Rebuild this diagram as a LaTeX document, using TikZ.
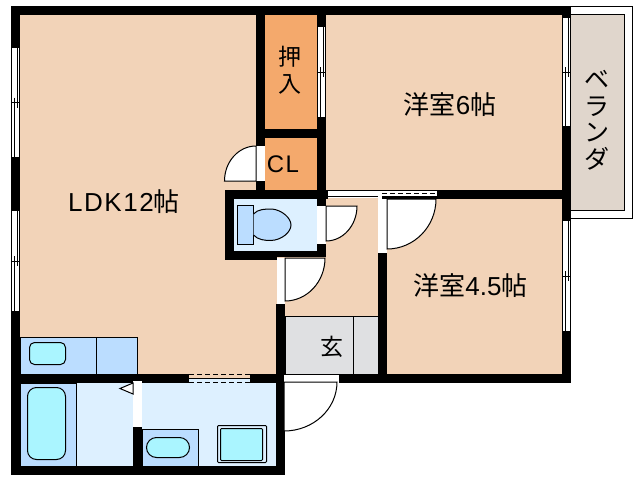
\documentclass[tikz,border=0pt]{standalone}
\usepackage{fontspec}
\setmainfont{Liberation Sans}
\newfontfamily\cjk{Noto Sans CJK JP}
\newfontfamily\latw[LetterSpace=6]{Liberation Sans}
\usepackage{xcolor}
\definecolor{floorc}{HTML}{F2D3B8}
\definecolor{closetc}{HTML}{F4A96C}
\definecolor{wetc}{HTML}{DDF0FF}
\definecolor{fixc}{HTML}{BBDDFF}
\definecolor{waterc}{HTML}{AAF5FF}
\definecolor{porchc}{HTML}{DFE0E2}
\definecolor{balcc}{HTML}{E0D6CC}
\tikzstyle{wall}=[fill=black]
\tikzstyle{thinl}=[draw=black,line width=1pt]
\tikzstyle{leaf}=[thinl,fill=white]
\tikzstyle{fixture}=[thinl,fill=fixc]
\tikzstyle{basin}=[thinl,fill=waterc]
\tikzstyle{roomtext}=[inner sep=0pt,font=\fontsize{26}{26}\selectfont\cjk]
\tikzstyle{tallertext}=[roomtext,align=center]
% sash: x, top, bottom
\newcommand{\sash}[3]{
\fill[white] (#1,#2) rectangle (#1+9,#3);
\draw[thinl] (#1+0.5,#2) -- (#1+0.5,#3);
\draw[thinl] (#1+8.5,#2) -- (#1+8.5,#3);
\draw[thinl] (#1+6,#2) -- (#1+6,{(#2+#3)/2+5});
\draw[thinl] (#1+3,{(#2+#3)/2-5}) -- (#1+3,#3);
\draw[thinl] (#1+0.5,{(#2+#3)/2}) -- (#1+8.5,{(#2+#3)/2});
}
\begin{document}
\begin{tikzpicture}[x=1pt,y=-1pt]
\useasboundingbox (0,0) rectangle (638,480);
% floors
\fill[floorc] (20,15) rectangle (562,374);
\fill[closetc] (265,15) rectangle (317,190);
\fill[wetc] (234,199) rectangle (317,251);
\fill[wetc] (20,383) rectangle (276,466);
\fill[white] (326,383) rectangle (638,480);
\fill[floorc] (189,374) rectangle (250,378);
\fill[wetc] (189,378) rectangle (250,383);
\draw[thinl,fill=porchc] (285,316) rectangle (378,374);
\draw[thinl] (353.5,316) -- (353.5,374);
% balcony
\draw[thinl] (571,6.5) -- (632,6.5) -- (632,218) -- (571,218);
\draw[thinl,fill=balcc] (571,14.5) -- (624,14.5) -- (624,210.5) -- (571,210.5);
% walls
\foreach \xa/\ya/\xb/\yb in {11/6/571/15,11/6/20/48,11/157/20/211,11/311/20/475,
11/466/285/475,11/374/189/383,250/374/285/383,276/304/285/475,
256/15/265/146,256/181/265/190,265/129/317/138,
225/190/328/199,225/190/234/260,225/251/277/260,277/251/326/257,317/190/326/206,317/244/326/257,
317/15/326/27,317/117/326/190,382/196/437/199,437/190/571/199,
378/253/387/374,339/374/571/383,562/6/571/18,562/126/571/221,562/331/571/383,133/427/142/466}
\fill[wall] (\xa,\ya) rectangle (\xb,\yb);
% windows
\sash{11}{48}{157}
\sash{11}{211}{311}
\sash{317}{27}{117}
\sash{562}{18}{126}
\sash{562}{221}{331}
% sliding doors
\fill[white] (328,190) rectangle (437,196);
\fill[white] (328,196) rectangle (382,198);
\fill[white] (378,196) rectangle (382,199);
\draw[thinl] (328,190.5) -- (437,190.5);
\draw[thinl] (328,196.5) -- (378,196.5);
\draw[thinl,dash pattern=on 5pt off 3pt] (382,193) -- (437,193);
\draw[thinl,dash pattern=on 5pt off 3pt] (189,374) -- (250,374);
\draw[thinl] (189,378) -- (250,378);
\draw[thinl,dash pattern=on 5pt off 3pt] (189,382) -- (250,382);
% door openings
\foreach \xa/\ya/\xb/\yb in {256/146/265/181,317/206/326/244,277/258/285/304,378/199/387/253,133/381/142/427,284/375/339/382}
\fill[white] (\xa,\ya) rectangle (\xb,\yb);
% door leaves
\draw[leaf] (256,146) -- (256,181) -- (224.5,181) arc[start angle=180,end angle=270,x radius=31.5,y radius=35];
\draw[leaf] (357,206) arc[start angle=0,end angle=90,x radius=31,y radius=35] -- (326,206) -- cycle;
\draw[leaf] (325,258) arc[start angle=0,end angle=90,x radius=40,y radius=43] -- (285,258) -- cycle;
\draw[leaf] (436,199) arc[start angle=0,end angle=90,x radius=49,y radius=50] -- (387,199) -- cycle;
\draw[leaf] (337,382) arc[start angle=0,end angle=90,x radius=53,y radius=49] -- (284,382) -- cycle;
\draw[leaf] (120,388.5) -- (133,383) -- (133,394) -- cycle;
% toilet
\draw[fixture] (237.5,205.5) rectangle (253.5,244.5);
\draw[fixture] (253.5,214) .. controls (258,209) and (265,209) .. (272,209) .. controls (282,210) and (291,218) .. (291,225) .. controls (291,232) and (282,240) .. (271,240.5) .. controls (265,240.5) and (258,240) .. (253.5,235);
% kitchen
\draw[fixture] (20,337.5) rectangle (137.5,374);
\draw[thinl] (96.5,337.5) -- (96.5,374);
\draw[basin,rounded corners=5pt] (29.5,342.5) rectangle (65.5,364.5);
% bath
\draw[fixture] (20,383) rectangle (76.5,466);
\draw[basin,rounded corners=9pt] (27.5,387.5) rectangle (65.5,459.5);
\draw[fixture] (142,429.5) rectangle (198.5,466);
\draw[basin,rounded corners=10pt] (146.5,437.5) rectangle (189.5,457.5);
\draw[thinl,fill=wetc,rounded corners=1pt] (217.5,425.5) rectangle (266.5,462.5);
\draw[basin,rounded corners=1pt] (220.5,428.5) rectangle (262.5,460.5);
% labels
\node[roomtext] (ldk) at (124,202) {{\latw LDK12}帖};
\node[roomtext] (west) at (450,105) {洋室{\rmfamily 6}帖};
\node[roomtext] (south) at (470.5,286) {洋室{\rmfamily 4.5}帖};
\node[tallertext,font=\fontsize{23}{27}\selectfont\cjk] (oshi) at (290,70) {押\\入};
\node[roomtext,font=\fontsize{24}{24}\selectfont\latw] (cl) at (283,164) {CL};
\node[roomtext,font=\fontsize{23}{23}\selectfont\cjk] (gen) at (331.5,347) {玄};
\node[tallertext,font=\fontsize{25}{26.5}\selectfont\cjk] (bal) at (597,120) {ベ\\ラ\\ン\\ダ};
\end{tikzpicture}
\end{document}
